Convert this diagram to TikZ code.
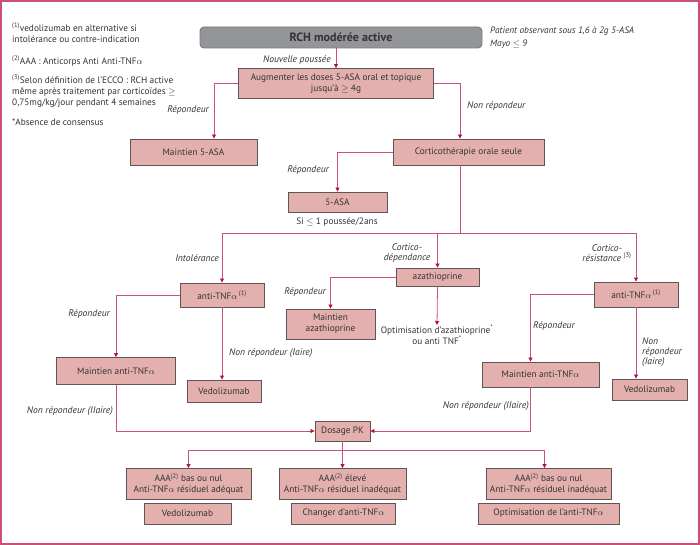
\documentclass[tikz,border=0pt]{standalone}
\usepackage{fontspec}
\setmainfont{PT Sans}
\usetikzlibrary{arrows.meta}
\definecolor{boxfill}{HTML}{E4B0AD}
\definecolor{boxdraw}{HTML}{5F5557}
\definecolor{grayfill}{HTML}{949598}
\definecolor{graydraw}{HTML}{7A7B7E}
\definecolor{linkcol}{HTML}{C9527A}
\definecolor{tipcol}{HTML}{B3123F}
\definecolor{framecol}{HTML}{CC4F78}
\definecolor{txtcol}{HTML}{333333}

\tikzstyle{box}=[draw=boxdraw,fill=boxfill,line width=0.9pt,inner sep=1pt,align=center,text=txtcol,font=\fontsize{9.3}{10.8}\selectfont]
\tikzstyle{link}=[draw=linkcol,line width=0.8pt]
\tikzstyle{arr}=[link,-{Triangle[length=4pt,width=4pt,color=tipcol]}]
\tikzstyle{lbl}=[inner sep=0pt,text=txtcol,font=\fontsize{9.6}{10.8}\selectfont\itshape]
\tikzstyle{notetxt}=[inner sep=0pt,anchor=west,align=left,text=txtcol,font=\fontsize{9.3}{10.8}\selectfont]

\begin{document}
\begin{tikzpicture}[x=1pt,y=-1pt]
	\useasboundingbox (0,0) rectangle (700,545);
	\draw [draw=framecol,line width=1.6pt] (0.8,0.8) rectangle (699.2,544.2);

	\node [notetxt] (note1) at (12,32.5) {\textsuperscript{(1)}vedolizumab en alternative si\\intolérance ou contre-indication};
	\node [notetxt] (note2) at (12,61) {\textsuperscript{(2)}AAA : Anticorps Anti Anti-TNF$\alpha$};
	\node [notetxt] (note3) at (12,91) {\textsuperscript{(3)}Selon définition de l’ECCO : RCH active\\même après traitement par corticoïdes $\geq$\\0,75mg/kg/jour pendant 4 semaines};
	\node [notetxt] (note4) at (12,122) {*Absence de consensus};

	\node [box,rounded corners=4pt,fill=grayfill,draw=graydraw,minimum width=282,minimum height=21,font=\fontsize{12}{14}\selectfont\bfseries] (rch) at (341,37.5) {RCH modérée active};
	\node [lbl,anchor=north west,align=left,font=\fontsize{9.3}{10.8}\selectfont\itshape] (patient) at (490,27) {Patient observant sous 1,6 à 2g 5-ASA\\[1.5pt]Mayo $\leq$ 9};

	\node [box,minimum width=195,minimum height=30] (aug) at (336,83.5) {Augmenter les doses 5-ASA oral et topique\\jusqu’à $\geq$ 4g};
	\node [lbl,anchor=east] (nouv) at (331,60) {Nouvelle poussée};
	\node [box,minimum width=127,minimum height=26] (m5asa) at (193.5,152) {Maintien 5-ASA};
	\node [lbl,anchor=east] (rep1) at (209,110) {Répondeur};
	\node [box,minimum width=151,minimum height=26] (cortico) at (468.5,152) {Corticothérapie orale seule};
	\node [lbl,anchor=west] (nonrep1) at (467,106) {Non répondeur};
	\node [box,minimum width=99,minimum height=20] (asa) at (337.5,202) {5-ASA};
	\node [lbl,anchor=east] (rep2) at (329,170) {Répondeur};
	\node [notetxt,anchor=center] (si) at (337,222) {Si $\leq$ 1 poussée/2ans};

	\coordinate (br1) at (460,233);
	\node [box,minimum width=84,minimum height=24] (atnfL) at (222,295) {anti-TNF$\alpha$\,\textsuperscript{(1)}};
	\node [lbl,anchor=east] (intol) at (219,258) {Intolérance};
	\node [box,minimum width=83,minimum height=18] (aza) at (437.5,277) {azathioprine};
	\node [lbl,align=center] (cdep) at (407,253) {Cortico-\\[-1pt]dépendance};
	\node [box,minimum width=84,minimum height=25] (atnfR) at (636,294.5) {anti-TNF$\alpha$\,\textsuperscript{(1)}};
	\node [lbl,align=center] (cres) at (607,253) {Cortico-\\[-1pt]résistance \textsuperscript{\upshape(3)}};

	\node [box,minimum width=89,minimum height=30] (maza) at (330.5,324) {Maintien\\azathioprine};
	\node [lbl,anchor=east] (rep3) at (326,292) {Répondeur};
	\node [notetxt,anchor=north,align=center] (optaza) at (437,325) {Optimisation d’azathioprine\textsuperscript{*}\\ou anti TNF\textsuperscript{*}};

	\node [box,minimum width=119,minimum height=27] (mtnfL) at (116,371) {Maintien anti-TNF$\alpha$};
	\node [lbl,anchor=east] (rep4) at (110,314) {Répondeur};
	\node [box,minimum width=74,minimum height=22] (vedL) at (224,391) {Vedolizumab};
	\node [lbl,anchor=west] (nonrepL) at (229,353) {Non répondeur (Iaire)};

	\node [box,minimum width=117,minimum height=25] (mtnfR) at (540.5,374.5) {Maintien anti-TNF$\alpha$};
	\node [lbl,anchor=west] (rep5) at (533,326) {Répondeur};
	\node [box,minimum width=75,minimum height=21] (vedR) at (649.5,389.5) {Vedolizumab};
	\node [lbl,anchor=west,align=left] (nonrepR) at (642,352) {Non\\[-1pt]répondeur\\[-1pt](Iaire)};

	\node [box,minimum width=55,minimum height=20] (dosage) at (342.5,431) {Dosage PK};
	\node [lbl,anchor=east] (nonrepLL) at (113,411) {Non répondeur (IIaire)};
	\node [lbl,anchor=east] (nonrepRR) at (529,406) {Non répondeur (IIaire)};

	\coordinate (br2) at (342.5,450);
	\node [box,minimum width=125,minimum height=31] (aaaL) at (188.5,484) {AAA\textsuperscript{(2)} bas ou nul\\Anti-TNF$\alpha$ résiduel adéquat};
	\node [box,minimum width=87,minimum height=21] (vedB) at (187.5,513.5) {Vedolizumab};
	\node [box,minimum width=127,minimum height=31] (aaaM) at (342.5,484) {AAA\textsuperscript{(2)} élevé\\Anti-TNF$\alpha$ résiduel inadéquat};
	\node [box,minimum width=104,minimum height=21] (chg) at (343.5,513.5) {Changer d’anti-TNF$\alpha$};
	\node [box,minimum width=125,minimum height=31] (aaaR) at (548.5,484) {AAA\textsuperscript{(2)} bas ou nul\\Anti-TNF$\alpha$ résiduel inadéquat};
	\node [box,minimum width=141,minimum height=21] (optR) at (548.5,513.5) {Optimisation de l’anti-TNF$\alpha$};

	\draw [arr] (aug.north |- rch.south) -- (aug.north);
	\draw [arr] (aug.west) -| ([xshift=20.5]m5asa.north);
	\draw [arr] (aug.east) -| ([xshift=-8.5]cortico.north);
	\draw [arr] (cortico.west) -| (asa.north);
	\draw [link] ([xshift=-8.5]cortico.south) -- (br1);
	\draw [arr] (br1) -| (atnfL.north);
	\draw [arr] (br1) -| (aza.north);
	\draw [arr] (br1) -| (atnfR.north);
	\draw [arr] (aza.west) -| (maza.north);
	\draw [arr] (aza.south) -- (optaza.north);
	\draw [arr] (atnfL.west) -| (mtnfL.north);
	\draw [arr] (atnfL.south) -- (atnfL.south |- vedL.north);
	\draw [arr] (atnfR.west) -| ([xshift=-10]mtnfR.north);
	\draw [arr] (atnfR.south) -- (atnfR.south |- vedR.north);
	\draw [arr] (mtnfL.south) |- (dosage.west);
	\draw [arr] ([xshift=-10]mtnfR.south) |- (dosage.east);
	\draw [link] (dosage.south) -- (br2);
	\draw [arr] (br2) -| (aaaL.north);
	\draw [arr] (br2) -- (aaaM.north);
	\draw [arr] (br2) -| ([xshift=-4]aaaR.north);
\end{tikzpicture}
\end{document}
